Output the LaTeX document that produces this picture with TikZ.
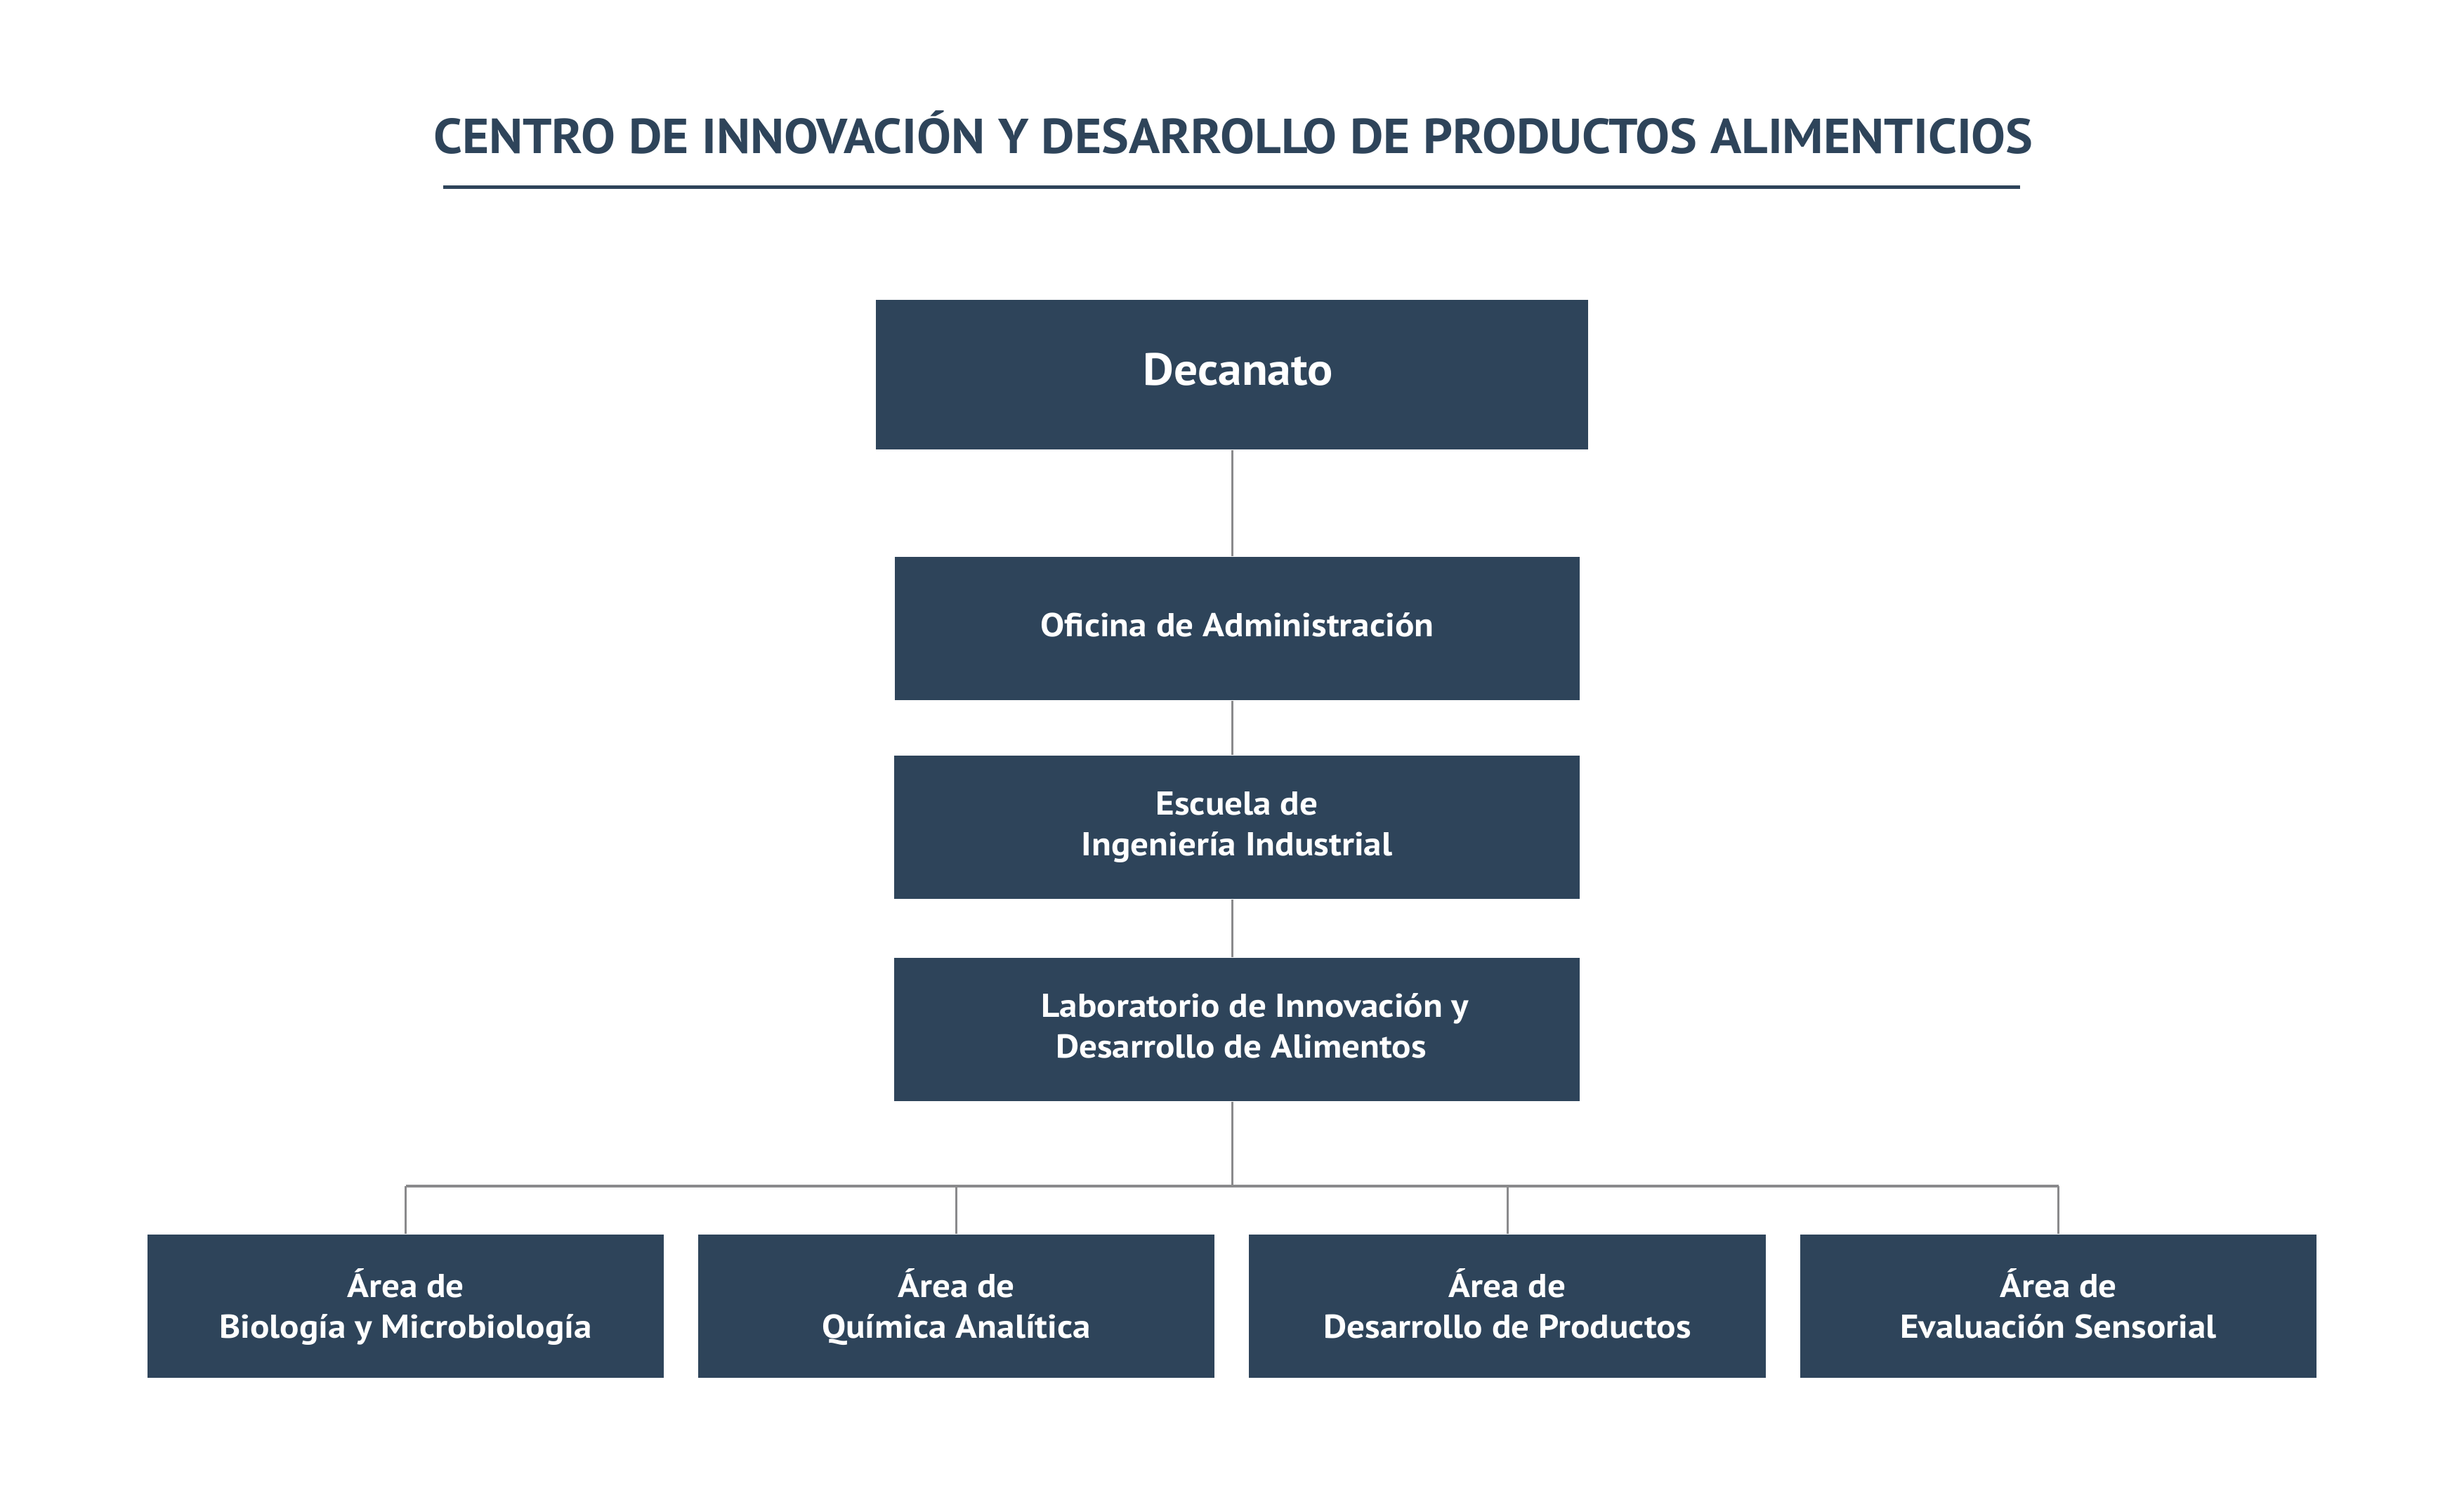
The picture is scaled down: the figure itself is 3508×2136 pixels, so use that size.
\documentclass[tikz,border=0pt]{standalone}
\usepackage{fontspec}
\setmainfont{PT Sans}
\newfontfamily\bodyfont{PT Sans}[FakeStretch=1.085]
\newfontfamily\titlefont{PT Sans}[FakeStretch=1.046]
\newfontfamily\decfont{PT Sans}[FakeStretch=1.05]
\usetikzlibrary{calc}
\definecolor{boxc}{RGB}{46,68,90}
\definecolor{linec}{RGB}{138,138,140}
\newcommand\areastrut{\rule{0pt}{14.2pt}}
\begin{document}
\begin{tikzpicture}[x=0.01cm,y=-0.01cm,
  orgbox/.style={rectangle,fill=boxc,draw=none,inner sep=0pt,text=white,align=center,
    font=\bodyfont\bfseries\fontsize{13.4}{16.3}\selectfont},
  midbox/.style={orgbox,minimum width=9.75cm,minimum height=2.04cm},
  areabox/.style={orgbox,minimum width=7.35cm,minimum height=2.04cm},
  conn/.style={draw=linec,line width=0.85pt},
  hconn/.style={draw=linec,line width=1.14pt}]
\useasboundingbox (0,0) rectangle (3508,2136);
\fill[white] (0,0) rectangle (3508,2136);
% title
\node[anchor=base,text=boxc,inner sep=0pt,font=\titlefont\bfseries\fontsize{19.9}{24}\selectfont] (title) at (1756,218)
  {CENTRO DE INNOVACIÓN Y DESARROLLO DE PRODUCTOS ALIMENTICIOS};
\coordinate (ulA) at (631,266.5);
\coordinate (ulB) at (2876,266.5);
\draw[boxc,line width=1.4pt] (ulA) -- (ulB);
% boxes
\node[orgbox,minimum width=10.14cm,minimum height=2.13cm,font=\decfont\bfseries\fontsize{18.3}{22}\selectfont] (dec) at (1754,533.5) {\strut\hspace*{5pt}Decanato};
\node[midbox] (ofi) at (1761.5,895) {\strut Oficina de Administración};
\node[midbox] (esc) at (1761,1178) {\strut Escuela de\\Ingeniería Industrial\strut};
\node[midbox] (lab) at (1761,1466) {\strut\hspace*{14.8pt}Laboratorio de Innovación y\\\hspace*{3.4pt}Desarrollo de Alimentos\strut};
\node[areabox] (a1) at (577.5,1860) {\areastrut Área de\\Biología y Microbiología\strut};
\node[areabox] (a2) at (1361.5,1860) {\areastrut Área de\\Química Analítica\strut};
\node[areabox] (a3) at (2146,1860) {\areastrut Área de\\Desarrollo de Productos\strut};
\node[areabox] (a4) at (2930.5,1860) {\areastrut Área de\\Evaluación Sensorial\strut};
\coordinate (hub) at (1754,1689);
% connectors
\draw[conn] (dec.south) -- (dec.south |- ofi.north);
\draw[conn] (dec.south |- ofi.south) -- (dec.south |- esc.north);
\draw[conn] (dec.south |- esc.south) -- (dec.south |- lab.north);
\draw[conn] (dec.south |- lab.south) -- (hub);
\draw[hconn] (a1.north |- hub) -- (a4.north |- hub);
\draw[conn] (a1.north |- hub) -- (a1.north);
\draw[conn] (a2.north |- hub) -- (a2.north);
\draw[conn] (a3.north |- hub) -- (a3.north);
\draw[conn] (a4.north |- hub) -- (a4.north);
\end{tikzpicture}
\end{document}
